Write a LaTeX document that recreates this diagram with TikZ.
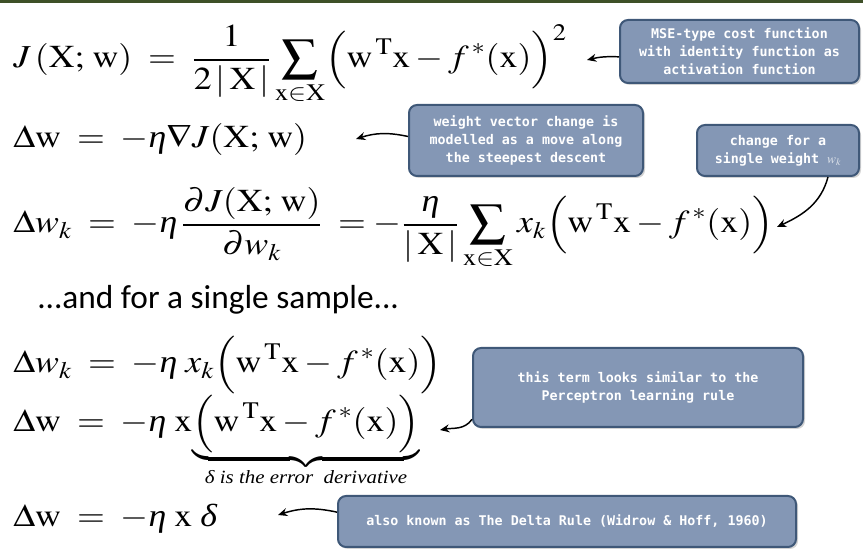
\documentclass[tikz,border=0pt]{standalone}
\usepackage{amsmath}
\usepackage{mathptmx}
\usepackage[no-math]{fontspec}
\setmainfont{Liberation Serif}
\newfontfamily\calibri{Carlito}
\newfontfamily\consolas{DejaVu Sans Mono}
\usetikzlibrary{arrows.meta,shadows}
\definecolor{boxfill}{RGB}{132,151,181}
\definecolor{boxline}{RGB}{63,88,120}
\definecolor{topbar}{RGB}{62,80,40}
\newcommand{\wide}[1]{\scalebox{1.12}[1]{#1}}
\newcommand{\teta}{\textit{η}}
\newcommand{\tdelta}{\textit{δ}}

\begin{document}
\begin{tikzpicture}[x=0.75pt,y=0.75pt,
    eq/.style={anchor=base west,inner sep=0pt,font=\fontsize{24}{28}\selectfont},
    callout/.style={draw=boxline,fill=boxfill,line width=1.5pt,rounded corners=6pt,
      text=white,font=\consolas\bfseries\fontsize{10}{13.5}\selectfont,align=center,inner sep=0pt,
      drop shadow={shadow xshift=1.5pt,shadow yshift=-1.5pt,opacity=0.35}},
    pointer/.style={-{Stealth[length=7pt,width=6pt]},line width=1.1pt}]
    \useasboundingbox (0,0) rectangle (863,555);
    \fill[topbar] (0,552) rectangle (863,555);
    \node[eq] (eqCost) at (13,487) {\wide{$\displaystyle J\,(\mathrm{X};\,\mathrm{w}) \;=\; \frac{1}{2\,|\,\mathrm{X}\,|}\sum_{\mathrm{x}\in\mathrm{X}}\Bigl(\mathrm{w}^{\,\mathrm{T}}\mathrm{x} - f^{\,*}(\mathrm{x})\Bigr)^{2}$}};
    \node[eq] (eqGrad) at (13,407) {\wide{$\displaystyle \Delta\mathrm{w} \;=\; -\teta\nabla J(\mathrm{X};\,\mathrm{w})$}};
    \node[eq] (eqPartial) at (13,322) {\wide{$\displaystyle \Delta w_{k} \;=\; -\teta\,\frac{\partial J(\mathrm{X};\,\mathrm{w})}{\partial w_{k}} \;= -\frac{\teta}{|\,\mathrm{X}\,|}\sum_{\mathrm{x}\in\mathrm{X}} x_{k}\Bigl(\mathrm{w}^{\,\mathrm{T}}\mathrm{x} - f^{\,*}(\mathrm{x})\Bigr)$}};
    \node[anchor=base west,inner sep=0pt,font=\calibri\fontsize{25}{30}\selectfont] (single) at (37,246) {...and for a single sample...};
    \node[eq] (eqSample) at (13,182) {\wide{$\displaystyle \Delta w_{k} \;=\; -\teta\; x_{k}\Bigl(\mathrm{w}^{\,\mathrm{T}}\mathrm{x} - f^{\,*}(\mathrm{x})\Bigr)$}};
    \node[eq] (eqVector) at (13,123) {\wide{$\displaystyle \Delta\mathrm{w} \;=\; -\teta\;\mathrm{x}{\underbrace{\Bigl(\mathrm{w}^{\,\mathrm{T}}\mathrm{x} - f^{\,*}(\mathrm{x})\Bigr)}_{\text{\fontsize{14}{16}\selectfont\itshape δ is the error\ \ derivative}}}$}};
    \node[eq] (eqDelta) at (13,28) {\wide{$\displaystyle \Delta\mathrm{w} \;=\; -\teta\;\mathrm{x}\;\tdelta$}};
    \node[callout,minimum width=179.25pt,minimum height=47.25pt] (mse) at (739.5,503.5) {MSE-type cost function\\with identity function as\\activation function};
    \node[callout,minimum width=175.5pt,minimum height=53.25pt] (steep) at (526,414.5) {weight vector change is\\modelled as a move along\\the steepest descent};
    \node[callout,minimum width=121.5pt,minimum height=38.25pt] (wk) at (778,404.5) {change for a\\single weight {\color{white!75!boxfill}$w_k$}};
    \node[callout,minimum width=247.5pt,minimum height=59.25pt] (percep) at (638,167.5) {this term looks similar to the\\Perceptron learning rule};
    \node[callout,minimum width=343.5pt,minimum height=38.25pt] (deltarule) at (567,33.5) {also known as The Delta Rule (Widrow \& Hoff, 1960)};
    \coordinate (mseTip) at (587,495);
    \coordinate (steepTip) at (356,416);
    \coordinate (wkTip) at (777,328);
    \coordinate (percepTip) at (440,125);
    \coordinate (deltaTip) at (278,40);
    \draw[pointer] ([yshift=-4pt]mse.west) to[bend right=8] (mseTip);
    \draw[pointer] ([yshift=3pt]steep.west) to[bend right=15] (steepTip);
    \draw[pointer] ([xshift=-24pt]wk.south east) to[out=-105,in=25] (wkTip);
    \draw[pointer] ([yshift=6.5pt]percep.south west) to[out=-125,in=10] (percepTip);
    \draw[pointer] ([yshift=7pt]deltarule.west) to[bend right=15] (deltaTip);
\end{tikzpicture}
\end{document}
